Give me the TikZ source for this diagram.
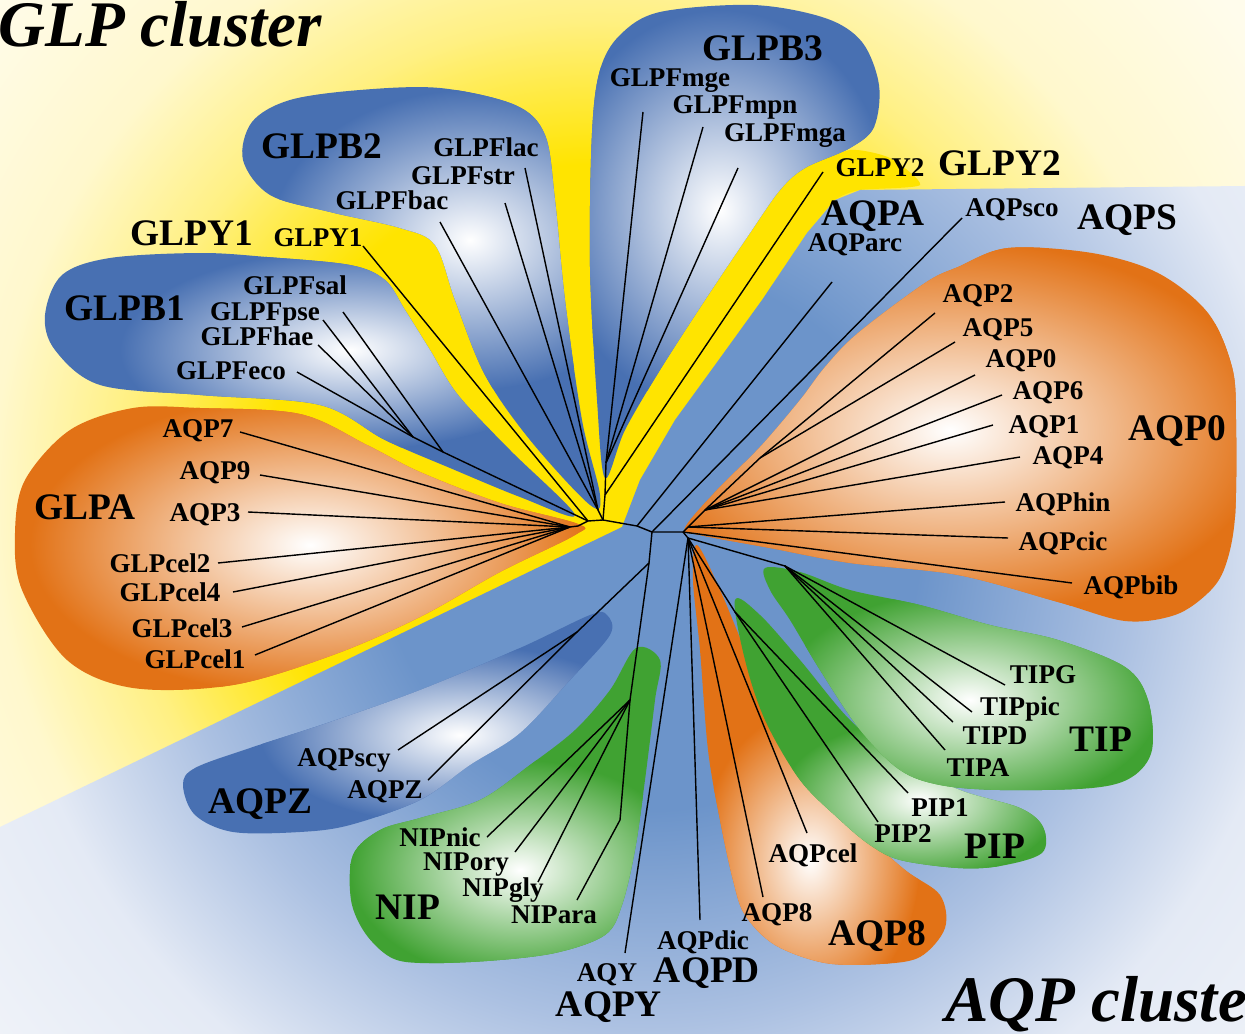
\documentclass[tikz,border=0pt]{standalone}
\usepackage{fontspec}
\setmainfont{Liberation Serif}
\usetikzlibrary{positioning}
\definecolor{yelS}{RGB}{255,228,0}
\definecolor{yelM}{RGB}{255,240,130}
\definecolor{yelL}{RGB}{255,248,205}
\definecolor{yelP}{RGB}{255,252,236}
\definecolor{bluS}{RGB}{108,148,202}
\definecolor{bluM}{RGB}{172,193,226}
\definecolor{bluL}{RGB}{228,234,245}
\definecolor{bluP}{RGB}{244,246,250}
\definecolor{bluB}{RGB}{72,112,178}
\definecolor{orgB}{RGB}{226,114,22}
\definecolor{grnB}{RGB}{64,162,50}
% 25bp = radius of the shaded circle
\pgfdeclareradialshading{bgyel}{\pgfpoint{0bp}{0bp}}{color(0bp)=(yelS); color(10.5bp)=(yelS); color(15bp)=(yelM); color(19bp)=(yelL); color(25bp)=(yelP); color(50bp)=(yelP)}
\pgfdeclareradialshading{bgblu}{\pgfpoint{0bp}{0bp}}{color(0bp)=(bluS); color(7.5bp)=(bluS); color(13.5bp)=(bluM); color(18bp)=(bluL); color(25bp)=(bluP); color(50bp)=(bluP)}
% colour, glow centre, glow radii, outline
\newcommand{\blob}[4]{%
  \begin{scope}
    \clip plot[smooth cycle, tension=0.55] coordinates {#4};
    \fill[#1] (0,0) rectangle (1245,1034);
    \shade[inner color=white, outer color=#1] #2 ellipse (#3);
  \end{scope}}
\tikzset{
  leaf/.style={font=\fontsize{15.4}{17}\selectfont\bfseries, anchor=base, inner sep=0pt},
  grp/.style={font=\fontsize{21.3}{24}\selectfont\bfseries, anchor=base, inner sep=0pt},
  ttl/.style={font=\fontsize{37}{40}\selectfont\bfseries\itshape, anchor=base west, inner sep=0pt},
  br/.style={black, line width=0.8pt, line join=round},
  band/.style={yelS},
}
\begin{document}
\begin{tikzpicture}[x=0.02cm, y=-0.02cm]
\useasboundingbox (0,0) rectangle (1245,1034);
\clip (0,0) rectangle (1245,1034);
% background: GLP side yellow, AQP side blue
\fill[yelP] (0,0) rectangle (1245,1034);
\shade[shading=bgyel] (600,500) circle (800);
\fill[band] plot[smooth cycle, tension=0.4] coordinates {(590,520) (565,508) (510,450) (458,395) (430,350) (405,310) (385,280) (390,250) (435,250) (455,300) (485,375) (530,440) (598,510)};
\fill[band] plot[smooth cycle, tension=0.4] coordinates {(605,515) (625,430) (660,370) (705,300) (750,233) (780,190) (805,168) (850,150) (890,158) (920,185) (860,190) (835,200) (807,233) (762,300) (715,365) (675,420) (640,480) (632,527)};
\begin{scope}
  \clip (622,527) -- (640,480) -- (675,420) -- (715,365) -- (762,300) -- (807,233) -- (835,200) -- (860,190) -- (1245,186) -- (1245,1034) -- (0,1034) -- (0,827) -- cycle;
  \shade[shading=bgblu] (650,540) circle (900);
\end{scope}
% clusters
\blob{bluB}{(470,240)}{200 and 150}{(590,505) (530,440) (485,375) (455,300) (435,245) (400,228) (330,212) (270,195) (243,160) (252,122) (290,100) (360,90) (440,88) (515,105) (545,135) (555,200) (565,300) (582,420) (600,495)}
\blob{bluB}{(350,350)}{230 and 100}{(575,515) (510,450) (458,395) (430,350) (405,310) (385,280) (350,265) (267,257) (200,253) (110,258) (62,275) (45,315) (55,350) (100,385) (200,395) (320,405) (385,440) (450,468) (520,497)}
\blob{bluB}{(720,210)}{170 and 200}{(605,478) (597,400) (590,267) (592,133) (600,70) (620,35) (660,12) (753,5) (825,18) (862,42) (879,85) (874,127) (850,148) (805,168) (780,190) (750,233) (705,300) (660,370) (625,430)}
\blob{orgB}{(310,545)}{280 and 150}{(578,524) (500,503) (420,472) (367,445) (300,414) (200,408) (133,408) (70,430) (25,480) (15,533) (22,590) (67,660) (133,688) (233,685) (333,655) (420,617) (500,572) (575,535)}
\blob{orgB}{(950,430)}{320 and 190}{(685,528) (717,490) (760,447) (800,400) (825,367) (858,333) (925,283) (958,267) (1008,248) (1092,253) (1158,273) (1208,313) (1232,367) (1236,420) (1235,517) (1225,567) (1208,593) (1175,615) (1125,621) (1058,602) (958,575) (850,563) (770,548) (700,535)}
\blob{bluB}{(460,735)}{200 and 90}{(607,615) (610,635) (570,680) (520,733) (470,765) (420,800) (350,825) (300,832) (233,832) (195,815) (183,785) (195,768) (250,748) (330,722) (420,690) (520,648) (590,615)}
\blob{grnB}{(520,870)}{170 and 110}{(636,648) (660,660) (655,700) (645,780) (635,850) (622,905) (605,935) (555,953) (487,961) (420,963) (390,957) (365,933) (351,900) (353,855) (380,830) (420,818) (480,800) (530,765) (575,730) (610,690)}
\blob{orgB}{(810,860)}{110 and 150}{(697,545) (720,590) (745,650) (775,720) (810,780) (860,830) (905,870) (940,895) (945,928) (920,957) (880,964) (825,963) (775,945) (745,915) (733,880) (720,820) (708,750) (700,650) (693,580)}
\blob{grnB}{(920,800)}{140 and 80}{(735,600) (760,615) (800,660) (850,720) (900,760) (960,790) (1020,808) (1043,827) (1042,853) (1000,866) (958,868) (900,860) (870,845) (840,820) (800,780) (765,720) (745,660)}
\blob{grnB}{(970,700)}{190 and 110}{(765,568) (800,572) (850,590) (920,605) (990,625) (1058,640) (1125,667) (1148,700) (1152,750) (1132,777) (1092,788) (1000,790) (940,785) (900,770) (860,730) (820,670) (790,620) (770,590)}
% inner nodes of the tree
\coordinate (ga) at (570,527);
\coordinate (r0) at (578,526);
\coordinate (g1) at (588,521);
\coordinate (r1) at (603,520);
\coordinate (r2) at (637,526);
\coordinate (r3) at (652,532);
\coordinate (r4) at (683,532);
\coordinate (r5) at (688,538);
\coordinate (b1a) at (413,437);
\coordinate (b1b) at (443,452);
\coordinate (b2) at (598,510);
\coordinate (b3s) at (605,495);
\coordinate (b3) at (606,463);
\coordinate (q0) at (688,527);
\coordinate (q1) at (705,510);
\coordinate (q2) at (760,458);
\coordinate (zn) at (649,563);
\coordinate (zs) at (577,632);
\coordinate (nn) at (630,700);
\coordinate (nd) at (620,820);
\coordinate (tn) at (785,566);
\coordinate (pn) at (735,612);
% leaf ends
\coordinate (lac-e) at (525,168);
\coordinate (str-e) at (505,203);
\coordinate (bac-e) at (440,222);
\coordinate (y1-e) at (363,246);
\coordinate (sal-e) at (343,312);
\coordinate (pse-e) at (323,320);
\coordinate (hae-e) at (318,345);
\coordinate (eco-e) at (297,372);
\coordinate (mge-e) at (643,112);
\coordinate (mpn-e) at (703,127);
\coordinate (mga-e) at (738,168);
\coordinate (y2-e) at (823,172);
\coordinate (arc-e) at (832,282);
\coordinate (sco-e) at (962,218);
\coordinate (q2-e) at (935,313);
\coordinate (q5-e) at (955,342);
\coordinate (q0-e) at (975,375);
\coordinate (q6-e) at (1002,395);
\coordinate (q1-e) at (993,425);
\coordinate (q4-e) at (1020,457);
\coordinate (hin-e) at (1005,502);
\coordinate (cic-e) at (1008,538);
\coordinate (bib-e) at (1072,583);
\coordinate (q7-e) at (240,432);
\coordinate (q9-e) at (260,475);
\coordinate (q3-e) at (248,512);
\coordinate (c2-e) at (218,563);
\coordinate (c4-e) at (233,592);
\coordinate (c3-e) at (242,627);
\coordinate (c1-e) at (255,655);
\coordinate (scy-e) at (398,750);
\coordinate (z-e) at (428,780);
\coordinate (nic-e) at (487,837);
\coordinate (ory-e) at (515,852);
\coordinate (gly-e) at (538,882);
\coordinate (ara-e) at (577,900);
\coordinate (aqy-e) at (625,953);
\coordinate (dic-e) at (700,920);
\coordinate (cel-e) at (807,833);
\coordinate (q8-e) at (763,897);
\coordinate (p1-e) at (908,793);
\coordinate (p2-e) at (878,822);
\coordinate (tg-e) at (1005,685);
\coordinate (tpic-e) at (972,712);
\coordinate (td-e) at (953,722);
\coordinate (ta-e) at (945,750);
% branches
\draw[br] (ga) -- (r0) -- (g1) -- (r1) -- (r2) -- (r3) -- (r4) -- (r5);
\draw[br] (g1) -- (b1b) -- (b1a);
\draw[br] (g1) -- (y1-e);
\draw[br] (b1b) -- (sal-e);
\draw[br] (b1a) -- (pse-e);  \draw[br] (b1a) -- (hae-e);  \draw[br] (b1a) -- (eco-e);
\draw[br] (r1) -- (b2);
\draw[br] (b2) -- (lac-e);  \draw[br] (b2) -- (str-e);  \draw[br] (b2) -- (bac-e);
\draw[br] (r1) -- (b3s) -- (b3);
\draw[br] (b3s) -- (y2-e);
\draw[br] (b3) -- (mge-e);  \draw[br] (b3) -- (mpn-e);  \draw[br] (b3) -- (mga-e);
\draw[br] (r2) -- (arc-e);
\draw[br] (r3) -- (sco-e);
\draw[br] (r4) -- (q0) -- (q1) -- (q2);
\draw[br] (q2) -- (q2-e);  \draw[br] (q2) -- (q5-e);
\draw[br] (q1) -- (q0-e);  \draw[br] (q1) -- (q6-e);  \draw[br] (q1) -- (q1-e);  \draw[br] (q1) -- (q4-e);
\draw[br] (q0) -- (hin-e);  \draw[br] (q0) -- (cic-e);
\draw[br] (r4) -- (bib-e);
\draw[br] (ga) -- (q7-e);  \draw[br] (ga) -- (q9-e);  \draw[br] (ga) -- (q3-e);
\draw[br] (ga) -- (c2-e);  \draw[br] (ga) -- (c4-e);  \draw[br] (ga) -- (c3-e);  \draw[br] (ga) -- (c1-e);
\draw[br] (r3) -- (zn) -- (zs) -- (z-e);
\draw[br] (zs) -- (scy-e);
\draw[br] (zn) -- (nn) -- (nd) -- (ara-e);
\draw[br] (nn) -- (nic-e);  \draw[br] (nn) -- (ory-e);  \draw[br] (nn) -- (gly-e);
\draw[br] (r5) -- (aqy-e);
\draw[br] (r5) -- (dic-e);
\draw[br] (r5) -- (cel-e);  \draw[br] (r5) -- (q8-e);
\draw[br] (r5) -- (pn);
\draw[br] (pn) -- (p1-e);  \draw[br] (pn) -- (p2-e);
\draw[br] (r5) -- (tn);
\draw[br] (tn) -- (tg-e);  \draw[br] (tn) -- (tpic-e);  \draw[br] (tn) -- (td-e);  \draw[br] (tn) -- (ta-e);
% leaf labels
\node[leaf] (lac) at (486,156) {GLPFlac};
\node[leaf] (str) at (463,185) {GLPFstr};
\node[leaf] (bac) at (392,210) {GLPFbac};
\node[leaf] (y1) at (318,246) {GLPY1};
\node[leaf] (sal) at (295,294) {GLPFsal};
\node[leaf] (pse) at (265,320) {GLPFpse};
\node[leaf] (hae) at (257,345) {GLPFhae};
\node[leaf] (eco) at (231,379) {GLPFeco};
\node[leaf] (mge) at (670,87) {GLPFmge};
\node[leaf] (mpn) at (735,113) {GLPFmpn};
\node[leaf] (mga) at (785,142) {GLPFmga};
\node[leaf] (y2) at (880,176) {GLPY2};
\node[leaf] (arc) at (855,252) {AQParc};
\node[leaf] (sco) at (1012,216) {AQPsco};
\node[leaf] (aqp2) at (978,302) {AQP2};
\node[leaf] (aqp5) at (998,336) {AQP5};
\node[leaf] (aqp0) at (1021,367) {AQP0};
\node[leaf] (aqp6) at (1048,399) {AQP6};
\node[leaf] (aqp1) at (1044,433) {AQP1};
\node[leaf] (aqp4) at (1068,464) {AQP4};
\node[leaf] (hin) at (1063,511) {AQPhin};
\node[leaf] (cic) at (1063,550) {AQPcic};
\node[leaf] (bib) at (1131,594) {AQPbib};
\node[leaf] (aqp7) at (198,437) {AQP7};
\node[leaf] (aqp9) at (215,479) {AQP9};
\node[leaf] (aqp3) at (205,521) {AQP3};
\node[leaf] (cel2) at (160,572) {GLPcel2};
\node[leaf] (cel4) at (170,601) {GLPcel4};
\node[leaf] (cel3) at (182,637) {GLPcel3};
\node[leaf] (cel1) at (195,668) {GLPcel1};
\node[leaf] (scy) at (344,766) {AQPscy};
\node[leaf] (aqpz) at (385,798) {AQPZ};
\node[leaf] (nic) at (440,846) {NIPnic};
\node[leaf] (ory) at (466,870) {NIPory};
\node[leaf] (gly) at (503,896) {NIPgly};
\node[leaf] (ara) at (554,923) {NIPara};
\node[leaf] (aqy) at (607,981) {AQY};
\node[leaf] (dic) at (703,949) {AQPdic};
\node[leaf] (cel) at (813,862) {AQPcel};
\node[leaf] (aqp8) at (777,921) {AQP8};
\node[leaf] (pip1) at (940,816) {PIP1};
\node[leaf] (pip2) at (903,842) {PIP2};
\node[leaf] (tipg) at (1043,683) {TIPG};
\node[leaf] (tippic) at (1020,715) {TIPpic};
\node[leaf] (tipd) at (995,744) {TIPD};
\node[leaf] (tipa) at (978,776) {TIPA};
% group labels
\node[grp] (gGLPB2) at (322,158) {GLPB2};
\node[grp] (gGLPY1) at (192,245) {GLPY1};
\node[grp] (gGLPB1) at (125,320) {GLPB1};
\node[grp] (gGLPB3) at (763,61) {GLPB3};
\node[grp] (gGLPY2) at (1000,175) {GLPY2};
\node[grp] (gAQPA) at (873,225) {AQPA};
\node[grp] (gAQPS) at (1127,230) {AQPS};
\node[grp] (gAQP0) at (1177,440) {AQP0};
\node[grp] (gGLPA) at (85,519) {GLPA};
\node[grp] (gAQPZ) at (260,813) {AQPZ};
\node[grp] (gNIP) at (408,919) {NIP};
\node[grp] (gAQPY) at (609,1016) {AQPY};
\node[grp] (gAQPD) at (707,982) {AQPD};
\node[grp] (gAQP8) at (877,945) {AQP8};
\node[grp] (gPIP) at (995,858) {PIP};
\node[grp] (gTIP) at (1101,751) {TIP};
% cluster titles
\node[ttl] (glpttl) at (-2,47) {GLP cluster};
\node[ttl] (aqpttl) at (945,1021) {AQP cluster};
\end{tikzpicture}
\end{document}
